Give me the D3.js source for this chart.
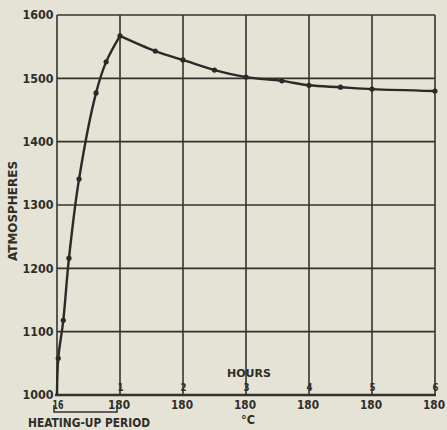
<!DOCTYPE html>
<html>
<head>
<meta charset="utf-8">
<script src="https://cdn.jsdelivr.net/npm/d3@7"></script>
<style>
  body { margin: 0; background: #e4e3d5; }
  svg { display: block; }
  text { font-family: "DejaVu Sans", sans-serif; font-weight: bold; fill: #2e2d2a; }
</style>
</head>
<body>
<svg id="chart"></svg>
<script>
// pressure readings (hours from start, atmospheres)
var hours = [0, 0.02, 0.1, 0.19, 0.35, 0.62, 0.78, 1.0, 1.56, 2, 2.5, 3, 3.57, 4, 4.5, 5, 6];
var atm = [1000, 1058, 1118, 1216, 1341, 1477, 1526, 1567, 1543, 1529, 1513, 1502, 1496, 1489, 1486, 1483, 1480];
var peakIndex = 7;

var yTicks = [1000, 1100, 1200, 1300, 1400, 1500, 1600];
var hourTicks = [1, 2, 3, 4, 5, 6];
var tempLabels = ["16", "180", "180", "180", "180", "180", "180"];

var screen = {width: 447, height: 430};
var margins = {left: 57, right: 12, top: 15, bottom: 35};

var svg = d3.select("#chart")
    .attr("width", screen.width)
    .attr("height", screen.height);

var xScale = d3.scaleLinear()
    .domain([0, 6])
    .range([margins.left, screen.width - margins.right]);

var yScale = d3.scaleLinear()
    .domain([1000, 1600])
    .range([screen.height - margins.bottom, margins.top]);

var ink = "#34332f";

// grid lines
svg.append("g")
    .selectAll("line")
    .data(yTicks)
    .enter()
    .append("line")
    .attr("x1", margins.left)
    .attr("x2", xScale(6))
    .attr("y1", function(d) { return yScale(d); })
    .attr("y2", function(d) { return yScale(d); })
    .attr("stroke", ink)
    .attr("stroke-width", 1.6);

svg.append("g")
    .selectAll("line")
    .data([0].concat(hourTicks))
    .enter()
    .append("line")
    .attr("x1", function(d) { return xScale(d); })
    .attr("x2", function(d) { return xScale(d); })
    .attr("y1", yScale(1600))
    .attr("y2", yScale(1000))
    .attr("stroke", ink)
    .attr("stroke-width", 1.6);

// heavier base line
svg.append("line")
    .attr("x1", xScale(0) - 2)
    .attr("x2", xScale(6) + 1)
    .attr("y1", yScale(1000))
    .attr("y2", yScale(1000))
    .attr("stroke", ink)
    .attr("stroke-width", 2.6);

// y axis labels
var yAxis = d3.axisLeft(yScale)
    .tickValues(yTicks)
    .tickSize(0)
    .tickPadding(3)
    .tickFormat(d3.format("d"));

svg.append("g")
    .attr("transform", "translate(" + (margins.left - 0.5) + ",0)")
    .call(yAxis)
    .call(function(g) { g.select(".domain").remove(); })
    .selectAll("text")
    .attr("font-size", 12)
    .attr("font-family", "DejaVu Sans")
    .attr("font-weight", "bold")
    .attr("fill", "#2e2d2a")
    .attr("textLength", 31)
    .attr("lengthAdjust", "spacingAndGlyphs");

svg.append("text")
    .attr("transform", "translate(17,211) rotate(-90)")
    .attr("text-anchor", "middle")
    .attr("font-size", 12)
    .attr("textLength", 100)
    .attr("lengthAdjust", "spacingAndGlyphs")
    .text("ATMOSPHERES");

// hour numbers above the base line
svg.append("g")
    .selectAll("text")
    .data(hourTicks)
    .enter()
    .append("text")
    .attr("x", function(d) { return xScale(d) + 0.5; })
    .attr("y", yScale(1000) - 4.5)
    .attr("text-anchor", "middle")
    .attr("font-size", 11)
    .attr("textLength", 6)
    .attr("lengthAdjust", "spacingAndGlyphs")
    .text(function(d) { return d; });

svg.append("text")
    .attr("x", 227)
    .attr("y", 377)
    .attr("font-size", 11)
    .attr("textLength", 44)
    .attr("lengthAdjust", "spacingAndGlyphs")
    .text("HOURS");

// temperature labels below
svg.append("g")
    .selectAll("text")
    .data(tempLabels)
    .enter()
    .append("text")
    .attr("x", function(d, i) { return xScale(i) - 1 + (i == 0 ? 2 : 0); })
    .attr("y", yScale(1000) + 14)
    .attr("text-anchor", "middle")
    .attr("font-size", 12)
    .attr("textLength", function(d) { return d.length == 2 ? 11 : 22; })
    .attr("lengthAdjust", "spacingAndGlyphs")
    .text(function(d) { return d; });

svg.append("text")
    .attr("x", xScale(3) + 2)
    .attr("y", 424)
    .attr("text-anchor", "middle")
    .attr("font-size", 12)
    .attr("textLength", 14)
    .attr("lengthAdjust", "spacingAndGlyphs")
    .text("°C");

// heating-up bracket
svg.append("path")
    .attr("d", "M" + (xScale(0) - 3) + ",405 L" + (xScale(0) - 3) + ",412 L" + (xScale(1) - 3) + ",412 L" + (xScale(1) - 3) + ",405")
    .attr("fill", "none")
    .attr("stroke", ink)
    .attr("stroke-width", 1.5);

svg.append("text")
    .attr("x", 28)
    .attr("y", 427)
    .attr("font-size", 12)
    .attr("textLength", 122)
    .attr("lengthAdjust", "spacingAndGlyphs")
    .text("HEATING-UP PERIOD");

// curve
var points = hours.map(function(h, i) { return [h, atm[i]]; });

var line = d3.line()
    .x(function(d) { return xScale(d[0]); })
    .y(function(d) { return yScale(d[1]); })
    .curve(d3.curveCatmullRom.alpha(0.5));

svg.append("path")
    .attr("d", line(points.slice(0, peakIndex + 1)))
    .attr("fill", "none")
    .attr("stroke", "#2b2a27")
    .attr("stroke-width", 2.4);

svg.append("path")
    .attr("d", line(points.slice(peakIndex)))
    .attr("fill", "none")
    .attr("stroke", "#2b2a27")
    .attr("stroke-width", 2.4);

svg.append("g")
    .selectAll("circle")
    .data(points.slice(1))
    .enter()
    .append("circle")
    .attr("cx", function(d) { return xScale(d[0]); })
    .attr("cy", function(d) { return yScale(d[1]); })
    .attr("r", 2.6)
    .attr("fill", "#2b2a27");
</script>
</body>
</html>
